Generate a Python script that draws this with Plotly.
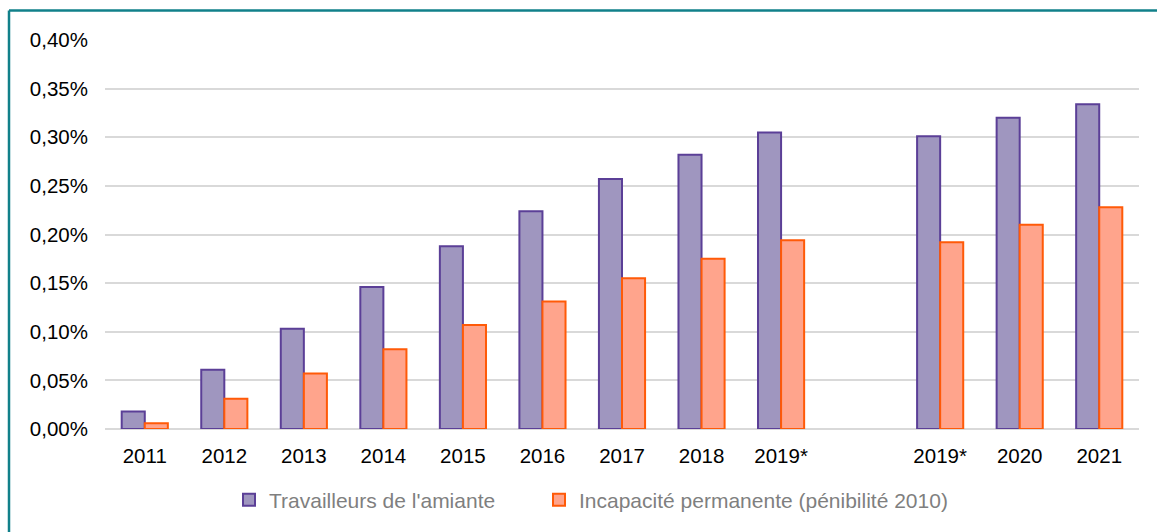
import plotly.graph_objects as go

# Data (values in %)
slots = [0, 1, 2, 3, 4, 5, 6, 7, 8, 10, 11, 12]
labels = ["2011", "2012", "2013", "2014", "2015", "2016", "2017", "2018", "2019*",
          "2019*", "2020", "2021"]
amiante = [0.018, 0.061, 0.103, 0.146, 0.188, 0.224, 0.257, 0.282, 0.305,
           0.301, 0.320, 0.334]
incapacite = [0.006, 0.031, 0.057, 0.082, 0.107, 0.131, 0.155, 0.175, 0.194,
              0.192, 0.210, 0.228]
yticks = [0, 0.0005, 0.001, 0.0015, 0.002, 0.0025, 0.003, 0.0035, 0.004]

fig = go.Figure()
fig.add_trace(go.Bar(
    x=slots, y=[v / 100 for v in amiante], name="Travailleurs de l'amiante",
    marker=dict(color="#9F96BF", line=dict(color="#5B3F97", width=2)),
    legend="legend",
))
fig.add_trace(go.Bar(
    x=slots, y=[v / 100 for v in incapacite], name="Incapacité permanente (pénibilité 2010)",
    marker=dict(color="#FFA48C", line=dict(color="#FF5A08", width=2)),
    legend="legend2",
))

# frame (top and left edges of the bordered box)
xl = (9 - 105) / 1034
yt = 1 + (40 - 10.5) / 390
fig.add_shape(type="line", xref="paper", yref="paper", x0=xl, x1=xl, y0=-0.4, y1=yt,
              line=dict(color="#11808A", width=2.5))
fig.add_shape(type="line", xref="paper", yref="paper", x0=xl, x1=1.1, y0=yt, y1=yt,
              line=dict(color="#11808A", width=2.5))

legend_common = dict(
    orientation="h", xanchor="left", y=-0.18, yanchor="middle",
    font=dict(size=21, color="#7F7F7F"), bgcolor="rgba(0,0,0,0)", itemwidth=30,
)

fig.update_layout(
    width=1157, height=532,
    margin=dict(l=105, r=18, t=40, b=102),
    paper_bgcolor="white", plot_bgcolor="white",
    separators=", ",
    barmode="group", bargap=0.42, bargroupgap=0,
    font=dict(family="Liberation Sans, Arial, sans-serif", size=21, color="#000000"),
    xaxis=dict(
        range=[-0.5, 12.5], tickmode="array", tickvals=slots, ticktext=labels,
        showgrid=False, showline=False, zeroline=False, ticks="",
        ticklabelstandoff=12, tickfont=dict(size=20.5),
    ),
    yaxis=dict(
        range=[0, 0.004], tickmode="array", tickvals=yticks, tickformat=".2%",
        showgrid=True, gridcolor="#D9D9D9", gridwidth=2,
        zeroline=True, zerolinecolor="#D9D9D9", zerolinewidth=2,
        showline=False, ticks="", ticklabelstandoff=16, tickfont=dict(size=20.5),
    ),
    legend=dict(x=(229 - 105) / 1034, **legend_common),
    legend2=dict(x=(539 - 105) / 1034, **legend_common),
    showlegend=True,
)

fig.write_html("out.html", config={"displayModeBar": False},
               post_script="document.body.style.margin='0';")
